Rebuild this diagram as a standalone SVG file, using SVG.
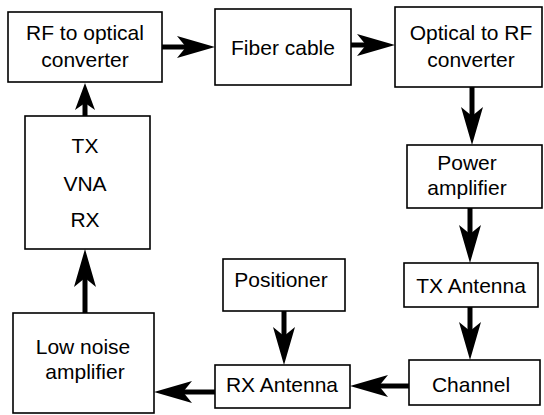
<svg xmlns="http://www.w3.org/2000/svg" width="544" height="415" viewBox="0 0 544 415">
<defs>
<style>
.box{fill:#fff;stroke:#000;stroke-width:1.6}
.t{font-family:"Liberation Sans",Arial,sans-serif;font-size:21px;fill:#000;text-anchor:middle}
.c{stroke:#000;stroke-width:5;fill:none}
</style>
<marker id="ah" viewBox="-40 -12 42 24" refX="-29" refY="0" markerWidth="42" markerHeight="24" markerUnits="userSpaceOnUse" orient="auto">
<path d="M0,0 L-38,-11 L-29,0 L-38,11 Z" fill="#000"/>
</marker>
<marker id="ahs" viewBox="-30 -12 32 24" refX="-20" refY="0" markerWidth="32" markerHeight="24" markerUnits="userSpaceOnUse" orient="auto">
<path d="M0,0 L-27,-10 L-20,0 L-27,10 Z" fill="#000"/>
</marker>
</defs>
<rect width="544" height="415" fill="#fff"/>
<g id="connectors">
<line class="c" x1="162" y1="47" x2="186" y2="47" marker-end="url(#ah)"/>
<line class="c" x1="351" y1="45" x2="366" y2="45" marker-end="url(#ah)"/>
<line class="c" x1="472" y1="87" x2="472" y2="116" marker-end="url(#ah)"/>
<line class="c" x1="470" y1="208" x2="470" y2="234" marker-end="url(#ah)"/>
<line class="c" x1="470" y1="307" x2="470" y2="331" marker-end="url(#ah)"/>
<line class="c" x1="409" y1="386" x2="379" y2="386" marker-end="url(#ah)"/>
<line class="c" x1="284" y1="311" x2="284" y2="336" marker-end="url(#ah)"/>
<line class="c" x1="215" y1="392" x2="183" y2="392" marker-end="url(#ah)"/>
<line class="c" x1="85" y1="313" x2="85" y2="278" marker-end="url(#ah)"/>
<line class="c" x1="85" y1="116" x2="85" y2="103" marker-end="url(#ahs)"/>
</g>
<g id="rf2opt">
<rect class="box" x="8" y="12" width="154" height="70"/>
<text class="t" x="85" y="40">RF to optical</text>
<text class="t" x="85" y="67">converter</text>
</g>
<g id="fiber">
<rect class="box" x="215" y="9" width="136" height="76"/>
<text class="t" x="283" y="55">Fiber cable</text>
</g>
<g id="opt2rf">
<rect class="box" x="395" y="7" width="147" height="80"/>
<text class="t" x="471" y="40">Optical to RF</text>
<text class="t" x="471" y="67">converter</text>
</g>
<g id="pa">
<rect class="box" x="407" y="145" width="135" height="63"/>
<text class="t" x="467" y="170">Power</text>
<text class="t" x="467" y="195">amplifier</text>
</g>
<g id="txant">
<rect class="box" x="404" y="263" width="134" height="44"/>
<text class="t" x="471" y="293">TX Antenna</text>
</g>
<g id="channel">
<rect class="box" x="409" y="360" width="131" height="45"/>
<text class="t" x="471" y="392">Channel</text>
</g>
<g id="rxant">
<rect class="box" x="215" y="365" width="135" height="43"/>
<text class="t" x="282" y="392">RX Antenna</text>
</g>
<g id="positioner">
<rect class="box" x="223" y="259" width="122" height="52"/>
<text class="t" x="281" y="287">Positioner</text>
</g>
<g id="lna">
<rect class="box" x="13" y="313" width="141" height="100"/>
<text class="t" x="83" y="354">Low noise</text>
<text class="t" x="85" y="379">amplifier</text>
</g>
<g id="vna">
<rect class="box" x="25" y="116" width="125" height="133"/>
<text class="t" x="85" y="153">TX</text>
<text class="t" x="85" y="191">VNA</text>
<text class="t" x="85" y="227">RX</text>
</g>
</svg>
